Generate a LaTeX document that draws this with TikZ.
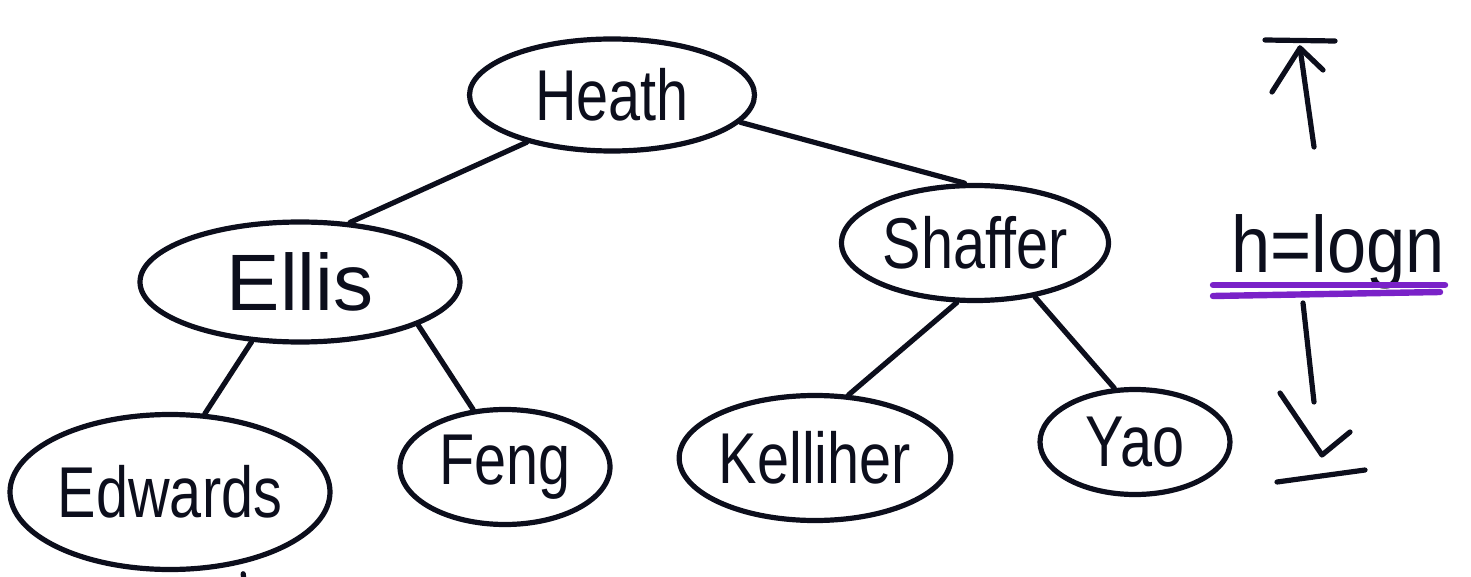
\documentclass[tikz,border=0pt]{standalone}
\usepackage{fontspec}
\setmainfont{Liberation Sans}
\usetikzlibrary{shapes.geometric}
\definecolor{ink}{RGB}{12,14,28}
\definecolor{marker}{RGB}{122,34,200}
\tikzset{
  pen/.style={draw=ink, line width=2.6pt, line cap=round, line join=round},
  person/.style={pen, ellipse, inner sep=0pt, text=ink,
    font=\fontsize{36}{40}\selectfont},
  edge/.style={pen},
}
\newcommand{\hand}[1]{\scalebox{0.8}[1]{#1}}
\begin{document}
\begin{tikzpicture}[x=0.5pt, y=-0.5pt]
\useasboundingbox (0,0) rectangle (1471,577);

% tree nodes
\node[person, minimum width=142.5pt, minimum height=56pt]   (heath)    at (612,95)  {\hand{Heath}};
\node[person, minimum width=160pt,   minimum height=60pt,
      font=\fontsize{40}{44}\selectfont]                     (ellis)    at (300,282) {\scalebox{1}[1]{Ellis}};
\node[person, minimum width=133.5pt, minimum height=57.5pt] (shaffer)  at (975,243) {\hand{Shaffer}};
\node[person, minimum width=160pt,   minimum height=77.5pt] (edwards)  at (170,492) {\hand{Edwards}};
\node[person, minimum width=105pt,   minimum height=57.5pt] (feng)     at (505,467) {\hand{Feng}};
\node[person, minimum width=127.5pt, minimum height=62.5pt] (kelliher) at (815,458) {\hand{Kelliher}};
\node[person, minimum width=95pt,    minimum height=52.5pt] (yao)      at (1135,442) {\hand{Yao}};

% tree edges
\draw[edge] (heath.209)   -- (ellis.50);
\draw[edge] (heath.-12)   -- (shaffer.100);
\draw[edge] (ellis.231)   -- (edwards.66);
\draw[edge] (ellis.-20)   -- (feng.119);
\draw[edge] (shaffer.253) -- (kelliher.62);
\draw[edge] (shaffer.-42) -- (yao.111);

% stub leaving the bottom edge
\coordinate (stub) at (244,580);
\draw[edge, shorten <=5pt] (edwards.-45) -- (stub);

% height annotation
\node[text=ink, font=\fontsize{40}{44}\selectfont, inner sep=0pt] (height) at (1338,252) {\scalebox{0.88}[1]{h=logn}};
\draw[draw=marker, line width=3.2pt, line cap=round] (1213,285) -- (1445,285);
\draw[draw=marker, line width=3.2pt, line cap=round] (1213,296) -- (1440,292);

% upward arrow to the top bar
\draw[pen] (1265,40) -- (1335,41);
\draw[pen] (1314,147) -- (1300,48);
\draw[pen] (1272,92) -- (1300,48) -- (1323,70);

% downward arrow to the bottom bar
\draw[pen] (1303,303) -- (1314,402);
\draw[pen] (1280,393) -- (1322,455) -- (1350,432);
\draw[pen] (1277,482) -- (1365,470);
\end{tikzpicture}
\end{document}
